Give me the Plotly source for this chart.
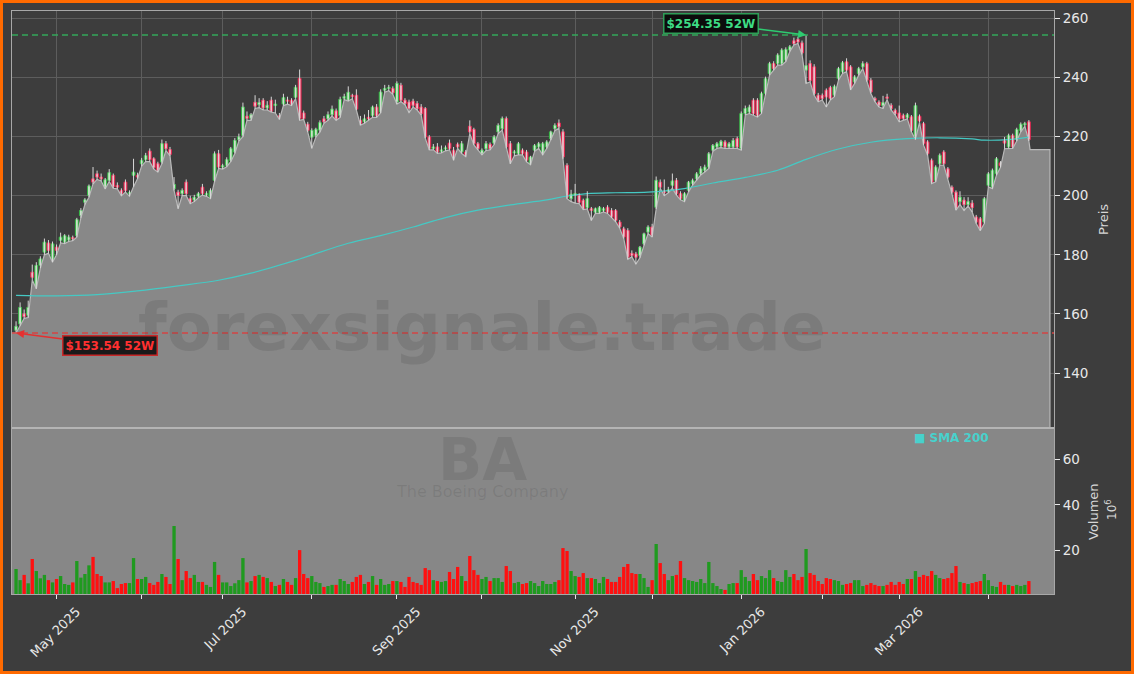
import pandas as pd
import plotly.graph_objects as go

# ---------------- data ----------------
start_date = "2025-04-16"
end_date = "2026-04-16"
market_holidays = ["2025-04-18", "2025-05-26", "2025-06-19", "2025-07-04", "2025-09-01",
                   "2025-11-27", "2025-12-25", "2026-01-01", "2026-01-19", "2026-02-16", "2026-04-03"]

opens = [154.5,156.6,160.0,159.5,174.1,169.0,176.4,180.9,184.0,178.1,
         182.6,184.9,184.3,185.0,185.8,186.5,193.3,197.8,200.1,205.7,
         207.4,206.3,202.9,205.2,206.9,203.5,201.8,204.6,200.7,206.9,
         206.9,210.8,212.2,215.1,212.5,210.8,211.4,217.6,215.6,202.4,
         201.2,200.7,204.6,199.0,198.5,199.8,202.9,200.3,199.5,205.2,
         214.2,209.7,210.3,212.0,214.8,219.0,220.4,226.9,226.2,231.6,
         230.8,232.3,229.7,232.3,230.5,227.0,231.0,232.3,232.3,233.3,
         239.7,228.0,224.2,219.8,220.4,222.2,226.0,226.0,227.4,228.7,
         227.1,233.0,232.3,233.8,234.0,225.5,225.0,226.5,227.1,230.0,
         228.3,235.7,236.3,236.3,231.7,237.4,232.3,231.7,232.0,231.2,
         230.0,229.5,219.9,216.0,216.5,215.0,215.8,217.8,215.4,217.4,
         214.8,214.8,223.5,222.4,217.6,214.2,215.9,217.4,217.8,221.6,
         222.7,226.1,217.6,214.5,214.2,215.4,214.8,210.8,215.4,216.5,
         214.2,216.5,219.3,222.7,224.6,221.6,210.3,199.0,200.2,200.1,
         198.4,196.0,195.6,194.4,194.4,195.0,196.1,195.0,195.0,191.1,
         188.8,188.2,180.5,180.3,179.8,183.7,187.7,189.4,196.1,204.6,
         201.5,201.5,203.5,205.2,200.7,198.4,201.8,204.1,205.7,207.4,
         208.6,209.7,215.4,216.5,216.8,218.2,216.5,216.5,219.3,215.9,
         227.8,228.3,232.3,232.3,228.3,234.6,241.3,244.7,244.7,244.7,
         245.9,249.3,252.4,252.9,251.7,242.5,244.7,243.6,234.0,234.0,
         235.7,236.6,234.0,239.6,241.9,245.3,243.6,238.5,241.3,243.6,
         244.7,239.1,232.9,231.7,230.5,233.4,230.6,228.9,228.0,227.2,
         226.4,226.7,220.0,226.9,224.4,218.2,212.0,205.2,210.8,214.8,
         209.1,202.9,201.2,198.0,198.5,197.0,197.5,192.8,192.2,191.1,
         203.5,202.9,207.4,211.1,218.7,216.5,220.4,219.0,222.1,224.0,
         225.0]

highs = [157.5,163.9,161.5,164.5,176.7,177.5,179.5,185.5,185.0,184.5,
         183.5,187.5,187.0,186.8,186.5,192.5,195.8,199.2,203.8,209.7,
         208.5,207.5,206.0,209.0,207.5,204.5,202.5,205.5,201.8,212.5,
         207.8,212.8,214.5,216.0,213.0,211.5,219.0,218.5,216.5,206.3,
         202.0,202.5,205.5,200.0,200.3,201.3,204.0,201.5,202.5,215.0,
         215.5,210.8,213.0,216.5,219.5,221.0,231.5,228.5,228.0,234.0,
         233.0,233.0,232.0,233.5,232.5,228.0,234.5,233.5,233.0,237.5,
         242.7,228.8,225.0,222.8,223.0,225.5,227.0,228.5,230.5,229.5,
         233.5,234.5,237.0,234.5,236.0,227.0,227.5,229.0,230.5,231.0,
         236.0,237.5,237.5,237.0,238.7,238.2,233.0,232.5,232.8,232.0,
         231.0,230.0,220.5,217.5,217.8,217.0,217.0,219.0,216.5,218.0,
         218.5,215.5,225.5,223.0,218.2,216.0,218.5,218.0,220.5,224.5,
         226.8,226.8,218.5,215.5,218.2,216.0,215.5,213.5,217.5,218.2,
         218.2,218.8,222.0,224.5,225.8,222.5,211.0,202.0,204.0,200.8,
         199.0,201.5,196.2,196.0,196.5,196.2,196.8,195.8,195.5,191.8,
         189.5,189.0,181.5,181.0,183.0,187.5,190.0,190.5,206.5,205.5,
         205.5,203.0,207.5,206.0,201.5,201.2,205.0,205.8,208.0,210.0,
         210.5,214.8,217.5,218.2,218.9,218.8,218.2,219.5,220.0,228.5,
         230.5,230.8,233.0,233.0,235.2,240.3,245.3,245.5,248.2,249.9,
         250.2,251.0,253.5,253.8,252.5,254.35,245.8,244.5,234.8,234.6,
         236.3,237.2,237.6,243.6,245.6,246.5,244.2,240.8,243.6,245.5,
         245.3,239.8,233.5,232.3,233.8,234.5,231.3,229.5,230.5,227.8,
         228.0,227.3,231.5,227.5,225.0,218.8,212.6,210.3,214.3,215.4,
         209.7,203.5,201.8,201.5,199.5,199.5,198.5,193.5,192.8,199.6,
         208.0,209.2,213.1,211.7,219.9,221.0,221.0,223.0,224.8,225.0,
         225.6]

lows = [153.54,156.0,158.5,158.8,171.5,168.5,175.5,180.0,180.5,177.5,
        180.0,184.0,183.8,184.5,184.8,186.0,192.5,197.0,199.5,204.0,
        205.5,205.0,202.3,204.8,202.5,202.3,200.0,201.2,199.8,203.0,
        205.8,210.0,211.5,211.5,209.0,208.0,210.8,215.3,213.5,201.8,
        195.6,200.0,200.0,197.3,198.0,199.3,200.2,199.8,199.0,204.8,
        209.2,209.0,209.8,211.5,214.3,218.5,220.0,225.5,225.5,229.5,
        229.8,229.0,229.0,228.3,228.0,225.8,230.5,231.0,230.5,232.8,
        225.5,225.8,221.5,216.0,219.8,221.5,224.5,225.5,227.0,225.5,
        226.5,232.5,232.0,232.8,229.0,223.9,224.5,225.5,226.5,226.5,
        228.0,235.0,235.5,234.3,231.0,231.8,230.8,228.1,230.0,229.0,
        227.3,219.5,215.5,215.5,214.3,214.5,215.2,215.5,212.0,216.0,
        214.3,213.2,221.0,217.2,215.5,213.8,215.3,215.5,217.3,221.0,
        222.2,216.0,210.8,213.5,213.8,213.8,211.5,210.5,215.0,216.0,
        213.8,216.0,218.8,222.0,222.8,212.5,199.0,198.0,197.5,197.3,
        195.3,195.5,191.6,194.0,194.0,194.5,194.0,192.5,191.2,189.0,
        185.5,178.5,179.3,176.9,179.0,183.2,187.2,186.0,195.5,202.5,
        200.0,201.0,202.5,200.2,198.6,198.0,201.3,203.6,205.2,207.0,
        208.0,209.2,215.0,216.0,216.3,216.0,216.0,216.0,216.0,215.4,
        227.3,227.8,227.3,226.6,227.8,234.0,240.8,242.5,244.2,244.2,
        245.4,248.8,251.0,251.5,247.8,238.0,238.5,234.0,231.8,232.4,
        230.0,232.4,233.5,239.1,241.4,242.0,235.8,238.0,240.8,243.0,
        238.6,234.6,231.8,230.0,229.5,232.5,229.0,227.3,225.0,225.6,
        226.0,221.6,219.0,224.8,217.1,213.7,204.1,204.7,210.3,210.3,
        205.8,200.7,195.1,197.0,195.0,196.5,194.5,190.6,188.2,190.6,
        203.0,202.4,206.9,209.6,215.9,216.0,216.0,218.5,221.6,223.5,
        218.5]

closes = [155.8,162.2,159.1,162.2,172.4,176.4,178.6,184.3,181.5,183.7,
          181.5,186.0,186.5,186.0,185.4,191.9,195.0,198.6,203.3,204.6,
          206.3,205.7,205.4,207.8,203.1,202.9,200.7,201.8,201.0,208.0,
          206.3,212.0,213.6,212.2,209.5,208.6,217.6,215.9,214.0,203.8,
          200.1,201.8,200.7,197.8,199.5,200.7,200.7,200.7,201.8,214.2,
          209.7,210.2,212.2,215.9,218.7,219.9,230.0,226.2,227.4,230.3,
          231.5,229.7,230.6,228.6,231.0,226.5,233.2,232.0,231.0,236.7,
          226.1,226.1,222.1,222.1,222.5,224.7,225.0,227.4,229.3,226.0,
          232.6,233.5,235.0,233.6,229.3,224.5,226.0,226.0,230.0,227.1,
          235.1,236.3,236.6,234.8,238.0,232.3,231.2,229.5,230.6,229.5,
          227.8,219.9,216.0,216.5,214.8,215.5,216.2,215.9,212.5,216.5,
          217.6,213.7,221.6,217.6,215.9,215.4,217.6,215.9,219.9,223.8,
          226.1,216.5,211.5,214.8,217.6,214.2,212.0,213.1,217.0,217.6,
          217.6,218.2,221.6,223.8,223.3,213.1,199.5,200.5,200.7,197.8,
          195.6,199.0,195.0,195.6,196.1,195.6,194.4,192.8,191.6,189.4,
          186.0,179.2,179.8,179.2,182.6,187.1,189.4,186.5,205.2,202.9,
          201.0,202.0,205.0,200.7,199.0,200.7,204.6,205.2,207.4,209.1,
          209.7,214.2,217.0,217.6,218.4,216.5,217.6,218.7,216.5,227.8,
          229.5,230.0,227.8,227.2,234.6,239.6,244.7,243.0,247.6,249.3,
          249.5,250.4,251.5,252.0,248.3,244.0,239.0,234.6,232.3,232.9,
          233.4,232.9,237.0,243.0,245.0,242.5,236.3,240.2,243.0,244.7,
          239.1,235.1,232.3,230.6,231.5,233.0,229.5,227.8,226.0,226.1,
          227.4,222.1,230.5,225.3,217.6,214.2,204.6,209.7,213.7,210.8,
          206.3,201.2,195.6,199.5,197.0,198.0,196.0,191.1,188.8,199.0,
          207.4,208.6,212.5,210.1,217.8,220.4,216.5,222.4,224.2,224.4,
          219.0]

volumes_mio = [11.8,6.9,9.2,5.5,16.2,10.9,7.7,9.2,6.9,5.9,
               7.4,8.7,5.2,4.8,5.9,15.3,8.0,9.6,13.4,17.1,
               9.6,8.7,5.9,5.9,6.5,3.4,5.2,5.6,5.6,16.6,
               7.4,7.4,8.3,5.6,4.8,6.1,9.6,8.3,5.2,30.7,
               16.2,6.9,10.9,7.8,9.2,6.1,6.1,4.8,3.9,14.9,
               9.2,5.9,5.9,4.3,5.5,6.9,16.6,5.9,6.5,8.7,
               9.2,8.3,7.8,6.1,4.3,4.8,7.4,6.1,4.8,7.8,
               20.1,9.6,7.8,8.7,6.1,5.6,3.9,4.3,4.8,4.8,
               7.4,6.5,5.2,6.1,8.3,9.2,5.2,6.1,8.7,4.8,
               7.4,4.8,5.2,6.5,6.5,6.1,3.9,8.3,6.1,5.6,
               4.8,12.2,11.3,6.9,6.5,6.1,6.5,10.5,7.4,12.7,
               8.7,6.5,17.5,11.3,9.2,7.4,8.3,6.5,7.8,7.8,
               6.1,13.1,10.9,5.6,6.1,5.2,5.6,6.5,5.6,4.3,
               6.5,5.2,5.2,6.1,6.9,21.0,19.7,10.9,8.7,8.3,
               10.0,7.8,7.8,7.4,5.6,8.3,7.4,6.1,6.1,8.3,
               12.7,14.0,10.0,9.6,9.6,7.8,3.9,6.9,22.8,14.4,
               9.6,6.9,8.7,9.2,15.3,7.8,6.9,6.5,6.1,7.4,
               5.6,14.9,5.6,4.3,3.0,2.6,5.2,5.6,5.6,11.3,
               8.3,6.5,9.6,6.9,8.7,7.8,11.3,7.8,6.5,6.1,
               11.3,8.3,9.6,6.9,8.3,20.6,10.0,9.2,6.5,5.2,
               7.8,7.4,6.9,6.5,4.8,5.2,5.6,6.9,6.9,4.3,
               4.8,5.6,4.8,4.3,4.3,4.8,6.1,4.8,6.1,5.2,
               7.4,7.4,10.9,8.3,9.2,8.7,10.9,9.2,7.8,7.4,
               7.8,10.0,13.1,6.1,5.6,5.2,5.6,6.1,6.5,9.6,
               6.9,4.3,3.9,6.1,4.8,4.8,4.3,4.8,4.3,4.8,
               6.5]

# SMA 200 (candle index, value)
sma_idx = [0, 10, 20, 30, 40, 50, 58, 70, 82, 90, 98, 106, 114, 122, 131, 136, 141, 148,
           156, 164, 172, 180, 188, 195, 203, 211, 220, 228, 236, 239, 245, 250]
sma_val = [166.3, 166.1, 166.5, 167.8, 169.5, 171.4, 173.8, 178.6, 183.9, 186.5, 189.4, 192.6,
           195.1, 196.9, 198.6, 199.9, 200.7, 201.0, 201.2, 202.2, 204.3, 206.2, 208.6, 212.3,
           215.8, 218.1, 219.3, 219.6, 219.2, 218.8, 219.0, 219.8]

high_52w = 254.35
low_52w = 153.54
last_price = 215.6
area_extend_days = 5.2

price_ticks = [140, 160, 180, 200, 220, 240, 260]
volume_ticks = [20, 40, 60]
price_range = [121.4, 262.5]
volume_range = [0.8, 73.8]

# ---------------- derived ----------------
all_days = pd.bdate_range(start_date, end_date)
dates = [d for d in all_days if d.strftime("%Y-%m-%d") not in market_holidays]
n = len(opens)
dates = dates[:n]
idx = list(range(n))

tick_pos, tick_txt = [], []
for i in range(1, n):
    if dates[i].month != dates[i - 1].month:
        tick_pos.append(i)
        tick_txt.append(dates[i].strftime("%b %Y") if dates[i].month % 2 == 1 else " ")

up = [c >= o for o, c in zip(opens, closes)]

BG = "#3d3d3d"
AREA = "#888888"
GRID = "#5d5d5d"
FRAME = "#a8a8a8"
TXT = "#e8e8e8"
xr = [-1.0, 256.2]

fig = go.Figure()

# area under the lows
ax_x = [xr[0]] + idx + [n - 1 + 0.3, n - 1 + area_extend_days, n - 1 + area_extend_days]
ax_y = [lows[0]] + lows + [last_price, last_price, price_range[0] - 5]
fig.add_trace(go.Scatter(x=ax_x, y=ax_y, mode="lines", fill="tozeroy", fillcolor=AREA,
                         line=dict(color="#b9b9b9", width=1.2), xaxis="x2", yaxis="y",
                         hoverinfo="skip", showlegend=False))

# SMA 200
fig.add_trace(go.Scatter(x=sma_idx, y=sma_val, mode="lines", line=dict(color="#45c9c4", width=1.2, shape="spline"),
                         xaxis="x2", yaxis="y", showlegend=False, hoverinfo="skip"))

# wicks
wx, wy = [], []
for i in idx:
    wx += [i, i, None]
    wy += [lows[i], highs[i], None]
fig.add_trace(go.Scatter(x=wx, y=wy, mode="lines", line=dict(color="#d8d8d8", width=1),
                         xaxis="x2", yaxis="y", showlegend=False, hoverinfo="skip"))

# candle bodies
body_h = [max(abs(c - o), 0.35) for o, c in zip(opens, closes)]
body_b = [min(o, c) for o, c in zip(opens, closes)]
fig.add_trace(go.Bar(x=idx, y=body_h, base=body_b, width=0.7,
                     marker=dict(color=["#b5efb5" if u else "#ff94ab" for u in up],
                                 line=dict(color=["#35b845" if u else "#e3244e" for u in up], width=1)),
                     xaxis="x2", yaxis="y", showlegend=False, hoverinfo="skip"))

# volume
fig.add_trace(go.Bar(x=idx, y=volumes_mio, width=0.82,
                     marker=dict(color=["#1f9a1f" if u else "#ff1010" for u in up], line=dict(width=0)),
                     xaxis="x", yaxis="y2", showlegend=False, hoverinfo="skip"))

i_hi = highs.index(max(highs))
i_lo = lows.index(min(lows))

W, H = 1134, 674
ml, mr, mt, mb = 12, 80, 11, 80
pw, ph = W - ml - mr, H - mt - mb
split = (594 - 428) / ph


def px_x(p):
    return (p - ml) / pw


def px_y(p):
    return (H - mb - p) / ph


shapes = [
    dict(type="rect", xref="paper", yref="paper", x0=0, x1=1, y0=0, y1=split,
         fillcolor="#878787", line=dict(width=0), layer="below"),
    dict(type="line", xref="paper", yref="y", x0=0, x1=1, y0=high_52w, y1=high_52w,
         line=dict(color="#33a85a", width=1.5, dash="6px,4px")),
    dict(type="line", xref="paper", yref="y", x0=0, x1=1, y0=low_52w, y1=low_52w,
         line=dict(color="#d24444", width=1.5, dash="6px,4px")),
    dict(type="line", xref="paper", yref="paper", x0=0, x1=1, y0=split, y1=split,
         line=dict(color="#b4b4b4", width=2)),
    dict(type="rect", xref="paper", yref="paper", x0=px_x(1.5), x1=px_x(W - 1.5),
         y0=px_y(H - 1.5), y1=px_y(1.5), line=dict(color="#ff6a00", width=3), layer="above"),
]


def paper_text(text, x, y, size, color, angle=0, xanchor="center"):
    return dict(text=text, xref="paper", yref="paper", x=px_x(x), y=px_y(y), xanchor=xanchor,
                yanchor="middle", textangle=angle, showarrow=False,
                font=dict(family="DejaVu Sans", size=size, color=color))


annotations = [
    paper_text("<b>forexsignale.trade</b>", 482, 327, 66, "rgba(40,40,40,0.13)"),
    paper_text("<b>BA</b>", 482, 460, 58, "rgba(40,40,40,0.12)"),
    paper_text("The Boeing Company", 482, 491, 16, "rgba(40,40,40,0.12)"),
    dict(text="<b>$%.2f 52W</b>" % high_52w, xref="x2", yref="y", x=i_hi, y=high_52w,
         ax=-95, ay=-12, showarrow=True, arrowhead=2, arrowsize=1, arrowwidth=1.6, arrowcolor="#2ecc71",
         font=dict(family="DejaVu Sans", size=12, color="#3ddc84"),
         bgcolor="#0c0c0c", bordercolor="#2e9d57", borderwidth=1.5, borderpad=2),
    dict(text="<b>$%.2f 52W</b>" % low_52w, xref="x2", yref="y", x=i_lo, y=low_52w,
         ax=94, ay=12, showarrow=True, arrowhead=2, arrowsize=1, arrowwidth=1.6, arrowcolor="#e53030",
         font=dict(family="DejaVu Sans", size=12, color="#ff3030"),
         bgcolor="#1a1a1a", bordercolor="#c62828", borderwidth=1.5, borderpad=2),
    paper_text("<b>■ SMA 200</b>", 912, 438, 12, "#48d1cc", xanchor="left"),
    paper_text("Preis", 1103, 220, 13, "#d6d6d6", angle=-90),
    paper_text("Volumen", 1093, 512, 13, "#d6d6d6", angle=-90),
    paper_text("10<sup>6</sup>", 1111, 510, 12, "#d6d6d6", angle=-90),
]

fig.update_layout(
    width=W, height=H, margin=dict(l=ml, r=mr, t=mt, b=mb, autoexpand=False),
    paper_bgcolor=BG, plot_bgcolor=BG, barmode="overlay", showlegend=False,
    font=dict(family="DejaVu Sans", color=TXT, size=13),
    shapes=shapes, annotations=annotations,
    xaxis=dict(domain=[0, 1], anchor="y2", range=xr, tickmode="array", tickvals=tick_pos, ticktext=tick_txt,
               tickangle=-45, ticks="outside", ticklen=4, tickcolor=TXT, showgrid=False, zeroline=False,
               ticklabelshift=20,
               automargin=False, showline=True, linecolor=FRAME, linewidth=1, mirror=True,
               tickfont=dict(size=13, color=TXT)),
    xaxis2=dict(domain=[0, 1], anchor="y", matches="x", range=xr, tickmode="array", tickvals=tick_pos,
                showticklabels=False, ticks="", showgrid=True, gridcolor=GRID, gridwidth=1, zeroline=False,
                automargin=False, showline=True, linecolor=FRAME, linewidth=1, mirror=True),
    yaxis=dict(domain=[split, 1], anchor="x2", side="right", range=price_range, tickmode="array",
               tickvals=price_ticks, ticks="outside", ticklen=5, tickcolor=TXT, showgrid=True, gridcolor=GRID,
               automargin=False, zeroline=False, showline=True, linecolor=FRAME, mirror=True,
               tickfont=dict(size=13.5, color=TXT)),
    yaxis2=dict(domain=[0, split], anchor="x", side="right", range=volume_range, tickmode="array",
                tickvals=volume_ticks, ticks="outside", ticklen=5, tickcolor=TXT, showgrid=False,
                automargin=False, zeroline=False, showline=True, linecolor=FRAME, mirror=True,
                tickfont=dict(size=13.5, color=TXT)),
)

fig.write_html("out.html", config={"displayModeBar": False},
               post_script="document.body.style.margin='0px';document.body.style.background='#3d3d3d';")
